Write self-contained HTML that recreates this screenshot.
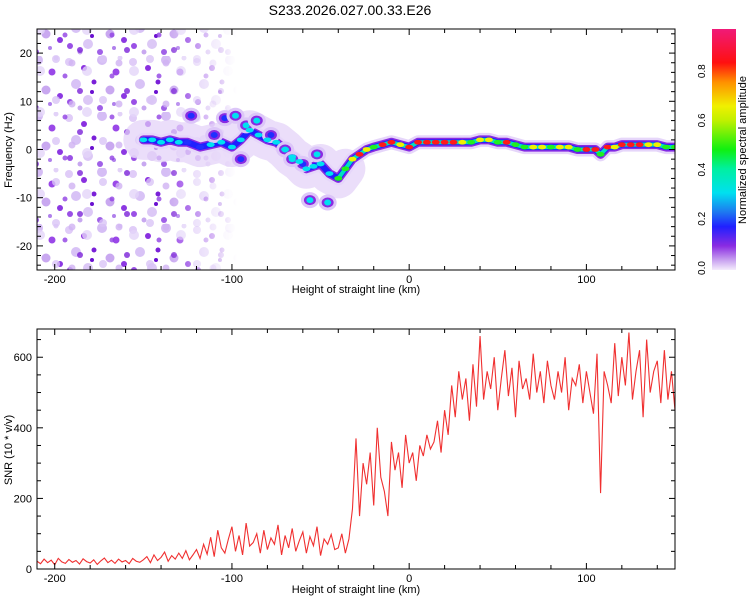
<!DOCTYPE html>
<html><head><meta charset="utf-8"><style>
body{margin:0;background:#fff;width:750px;height:600px;overflow:hidden}
svg text{font-family:"Liberation Sans",sans-serif;fill:#000}
</style></head><body>
<svg id="c" width="750" height="600">
<defs>
<linearGradient id="cb" x1="0" y1="1" x2="0" y2="0">
<stop offset="0" stop-color="#f4ecfc"/><stop offset="0.04" stop-color="#c9a3f0"/><stop offset="0.1" stop-color="#8a2be2"/>
<stop offset="0.18" stop-color="#2020ff"/><stop offset="0.24" stop-color="#1e78f0"/><stop offset="0.32" stop-color="#00e0f0"/>
<stop offset="0.42" stop-color="#00f0a0"/><stop offset="0.5" stop-color="#10f010"/><stop offset="0.62" stop-color="#c0f000"/>
<stop offset="0.68" stop-color="#f0f000"/><stop offset="0.78" stop-color="#ff9000"/><stop offset="0.86" stop-color="#ff1010"/><stop offset="1" stop-color="#f01a78"/>
</linearGradient>
<pattern id="noise" width="64" height="56" patternUnits="userSpaceOnUse">
<circle cx="5" cy="6" r="4" fill="#e0ccf8"/><circle cx="20" cy="12" r="3" fill="#8a30e0"/><circle cx="38" cy="4" r="5" fill="#d5bdf5"/>
<circle cx="52" cy="16" r="3.5" fill="#9a48e8"/><circle cx="12" cy="28" r="5" fill="#d8c2f6"/><circle cx="30" cy="26" r="2.5" fill="#7a20d8"/>
<circle cx="46" cy="34" r="4.5" fill="#c9a8f0"/><circle cx="60" cy="40" r="3" fill="#8c38e2"/><circle cx="6" cy="46" r="3" fill="#9a50e6"/>
<circle cx="24" cy="44" r="5" fill="#dcc8f6"/><circle cx="36" cy="52" r="3" fill="#a060e8"/><circle cx="56" cy="2" r="2.5" fill="#e2d2f8"/>
<circle cx="28" cy="36" r="2" fill="#6a10d0"/><circle cx="16" cy="52" r="2.5" fill="#c8a8f0"/><circle cx="50" cy="48" r="2" fill="#b080ec"/>
</pattern>
<pattern id="noise2" width="47" height="41" patternUnits="userSpaceOnUse">
<circle cx="9" cy="18" r="4" fill="#d9c4f6" opacity="0.8"/><circle cx="33" cy="9" r="3" fill="#7a22d8" opacity="0.8"/>
<circle cx="40" cy="30" r="5" fill="#e4d4f9" opacity="0.8"/><circle cx="18" cy="35" r="2.5" fill="#9040e4" opacity="0.8"/>
<circle cx="25" cy="22" r="3.5" fill="#cfb2f3" opacity="0.8"/>
</pattern>
<linearGradient id="fade" x1="0" x2="1"><stop offset="0" stop-color="#fff"/><stop offset="0.65" stop-color="#fff"/><stop offset="1" stop-color="#000"/></linearGradient>
<mask id="fm"><rect x="37" y="29" width="200" height="241" fill="url(#fade)"/></mask>
<clipPath id="tc"><rect x="37" y="29" width="638" height="241"/></clipPath>
<clipPath id="bc"><rect x="37" y="329" width="638" height="240"/></clipPath>
</defs>
<text x="350" y="15" font-size="14" text-anchor="middle">S233.2026.027.00.33.E26</text>
<g id="topg" clip-path="url(#tc)">
<rect x="37" y="29" width="200" height="241" fill="url(#noise)" mask="url(#fm)"/>
<rect x="37" y="29" width="200" height="241" fill="url(#noise2)" mask="url(#fm)"/>
</g>
<g id="bot" clip-path="url(#bc)"></g>
<g id="axes"></g>
<rect x="712" y="29" width="24" height="241" fill="url(#cb)"/>
<text transform="translate(746,150) rotate(-90)" font-size="11" text-anchor="middle">Normalized spectral amplitude</text>
<text transform="translate(12,150) rotate(-90)" font-size="11" text-anchor="middle">Frequency (Hz)</text>
<text transform="translate(12,450) rotate(-90)" font-size="11" text-anchor="middle">SNR (10 * v/v)</text>
<text x="356" y="293" font-size="11" text-anchor="middle">Height of straight line (km)</text>
<text x="356" y="593" font-size="11" text-anchor="middle">Height of straight line (km)</text>
</svg>
<script>
const NS="http://www.w3.org/2000/svg";
const xTicks=[-200,-100,0,100];
const yTicksTop=[-20,-10,0,10,20];
const yTicksBot=[0,200,400,600];
const cbTicks=[0.0,0.2,0.4,0.6,0.8];
const ridgeKm=[-150,-145,-140,-135,-130,-125,-118,-112,-106,-100,-95,-90,-85,-80,-75,-70,-66,-62,-58,-54,-50,-45,-40,-36,-32,-28,-24,-20,-15,-10,-5,0,5,10,15,20,25,30,35,40,45,50,55,60,65,70,75,80,85,90,95,100,105,108,112,116,120,125,130,135,140,145,150];
const ridgeHz=[2,2,1.5,2,1.5,1.5,0.5,1,1.5,0.5,2,4,3,2,1.5,0,-1.5,-2.5,-4,-3.5,-3,-5,-6,-4,-2,-1,0,0.5,1,1.5,1,0.5,1.5,1.5,1.5,1.5,1.5,1.5,1.5,2,2,1.5,1.5,1,0.5,0.5,0.5,0.5,0.5,0.5,0,0,0,-1,0.5,0.5,1,1,1,1,1,0.5,0.5];
const ridgeAmp=[0.3,0.3,0.35,0.3,0.3,0.25,0.25,0.3,0.3,0.3,0.3,0.35,0.35,0.3,0.35,0.3,0.35,0.35,0.3,0.3,0.35,0.35,0.5,0.55,0.7,0.9,0.75,0.6,0.9,0.85,0.75,0.9,0.9,0.9,0.9,0.9,0.85,0.75,0.6,0.7,0.65,0.6,0.85,0.6,0.55,0.7,0.7,0.6,0.65,0.7,0.6,0.9,0.9,0.5,0.9,0.7,0.85,0.9,0.9,0.65,0.7,0.6,0.55];
const blobKm=[-123,-104,-98,-92,-86,-78,-70,-60,-56,-46,-52,-66,-95,-110];
const blobHz=[7,6.5,7,5,6,3,0,-3,-10.5,-11,-1,-2,-2,3];
const blobAmp=[0.22,0.25,0.3,0.3,0.3,0.25,0.3,0.25,0.35,0.35,0.3,0.3,0.25,0.2];
const snrStart=-210, snrStep=2;
const snr=[22,15,28,18,25,12,30,20,16,27,19,24,14,29,21,17,26,13,23,31,18,25,16,28,20,24,15,30,22,19,
26,35,18,40,24,33,48,22,38,28,45,30,52,26,40,
55,30,70,42,90,35,110,60,45,85,120,50,95,40,130,65,75,100,45,110,55,88,70,125,40,95,60,115,50,80,105,45,92,66,120,38,85,70,98,55,
60,100,45,85,170,
370,150,300,240,330,180,400,260,220,150,
360,280,330,230,380,300,330,250,350,320,380,340,360,420,330,
450,380,520,430,560,480,540,420,580,460,
660,480,560,510,600,450,540,620,490,570,430,590,510,540,480,610,500,560,470,590,520,480,560,500,600,450,540,520,580,470,560,500,440,610,215,560,520,470,640,490,600,520,670,480,560,620,430,650,500,560,590,470,620,480,560,450];

const X0=37,X1=675,XMIN=-210,XMAX=150;
const xs=v=>X0+(v-XMIN)/(XMAX-XMIN)*(X1-X0);
const yt=v=>149.5-v*4.82;
const yb=v=>569-v/680*240;
function el(t,a,p){const e=document.createElementNS(NS,t);for(const k in a)e.setAttribute(k,a[k]);p.appendChild(e);return e;}
function ampColor(a){if(a>=0.8)return"#ff1a1a";if(a>=0.65)return"#f0f000";if(a>=0.5)return"#20f020";if(a>=0.3)return"#00e0f0";return"#2030ff";}
const topG=document.getElementById('topg');
const pts=ridgeKm.map((k,i)=>xs(k)+","+yt(ridgeHz[i])).join(" ");
const ptsL=ridgeKm.map((k,i)=>k<=-35?xs(k)+","+yt(ridgeHz[i]):null).filter(Boolean).join(" ");
const halo=el('polyline',{points:ptsL,fill:"none",stroke:"#e2d0f8","stroke-width":40,"stroke-linejoin":"round","stroke-linecap":"round",opacity:0.7},topG);


const layers=[[14,"#e6d6fa"],[9,"#8a2be2"],[6,"#2020ff"]];
layers.forEach(([w,c])=>{const l=el('polyline',{points:pts,fill:"none",stroke:c,"stroke-width":w,"stroke-linejoin":"round","stroke-linecap":"round"},topG);

});
const ptsR=ridgeKm.map((k,i)=>k>=-40?xs(k)+","+yt(ridgeHz[i]):null).filter(Boolean).join(" ");
const lr=el('polyline',{points:ptsR,fill:"none",stroke:"#00e0c0","stroke-width":4,"stroke-linejoin":"round"},topG);


blobKm.forEach((k,i)=>{
 const cx=xs(k),cy=yt(blobHz[i]);
 const g=el('g',{},topG);
 
 
 el('ellipse',{cx,cy,rx:9,ry:8,fill:"#dcc6f8"},g);
 el('ellipse',{cx,cy,rx:6,ry:5,fill:"#8a2be2"},g);
 el('ellipse',{cx,cy,rx:3.5,ry:3,fill:ampColor(blobAmp[i])},g);
});
ridgeKm.forEach((k,i)=>{
 const c=el('ellipse',{cx:xs(k),cy:yt(ridgeHz[i]),rx:4,ry:2.4,fill:ampColor(ridgeAmp[i])},topG);
 
 
});
const bot=document.getElementById('bot');
const sp=snr.map((v,i)=>xs(snrStart+i*snrStep)+","+yb(v)).join(" ");
const line=el('polyline',{points:sp,fill:"none",stroke:"#f03030","stroke-width":1.1},bot);


const ax=document.getElementById('axes');
function frame(y0,y1,yf,yticks,ymin,ymax,ystep,name){
 const r=el('rect',{x:X0,y:y0,width:X1-X0,height:y1-y0,fill:"none",stroke:"#000","stroke-width":1},ax);
 
 
 for(let v=-200;v<=150;v+=20){const x=xs(v);const M=xTicks.includes(v)?6:4;
  el('line',{x1:x,y1:y1,x2:x,y2:y1-M,stroke:"#000"},ax);el('line',{x1:x,y1:y0,x2:x,y2:y0+M,stroke:"#000"},ax);}
 xTicks.forEach(v=>{const t=el('text',{x:xs(v),y:y1+13,"font-size":11,"text-anchor":"middle"},ax);t.textContent=v;
  
  });
 for(let v=ymin;v<=ymax;v+=ystep){const y=yf(v);if(y<y0||y>y1)continue;const M=yticks.includes(v)?6:4;
  el('line',{x1:X0,y1:y,x2:X0+M,y2:y,stroke:"#000"},ax);el('line',{x1:X1,y1:y,x2:X1-M,y2:y,stroke:"#000"},ax);}
 yticks.forEach(v=>{const t=el('text',{x:X0-5,y:yf(v)+4,"font-size":11,"text-anchor":"end"},ax);t.textContent=v;
  
  });
}
frame(29,270,yt,yTicksTop,-24,24,2,'top');
frame(329,569,yb,yTicksBot,0,650,50,'bottom');
cbTicks.forEach(v=>{const y=268-v*246;const t=el('text',{transform:`translate(705,${y}) rotate(-90)`,"font-size":10,"text-anchor":"middle"},ax);t.textContent=v.toFixed(1);
 
 });
</script>
</body></html>
